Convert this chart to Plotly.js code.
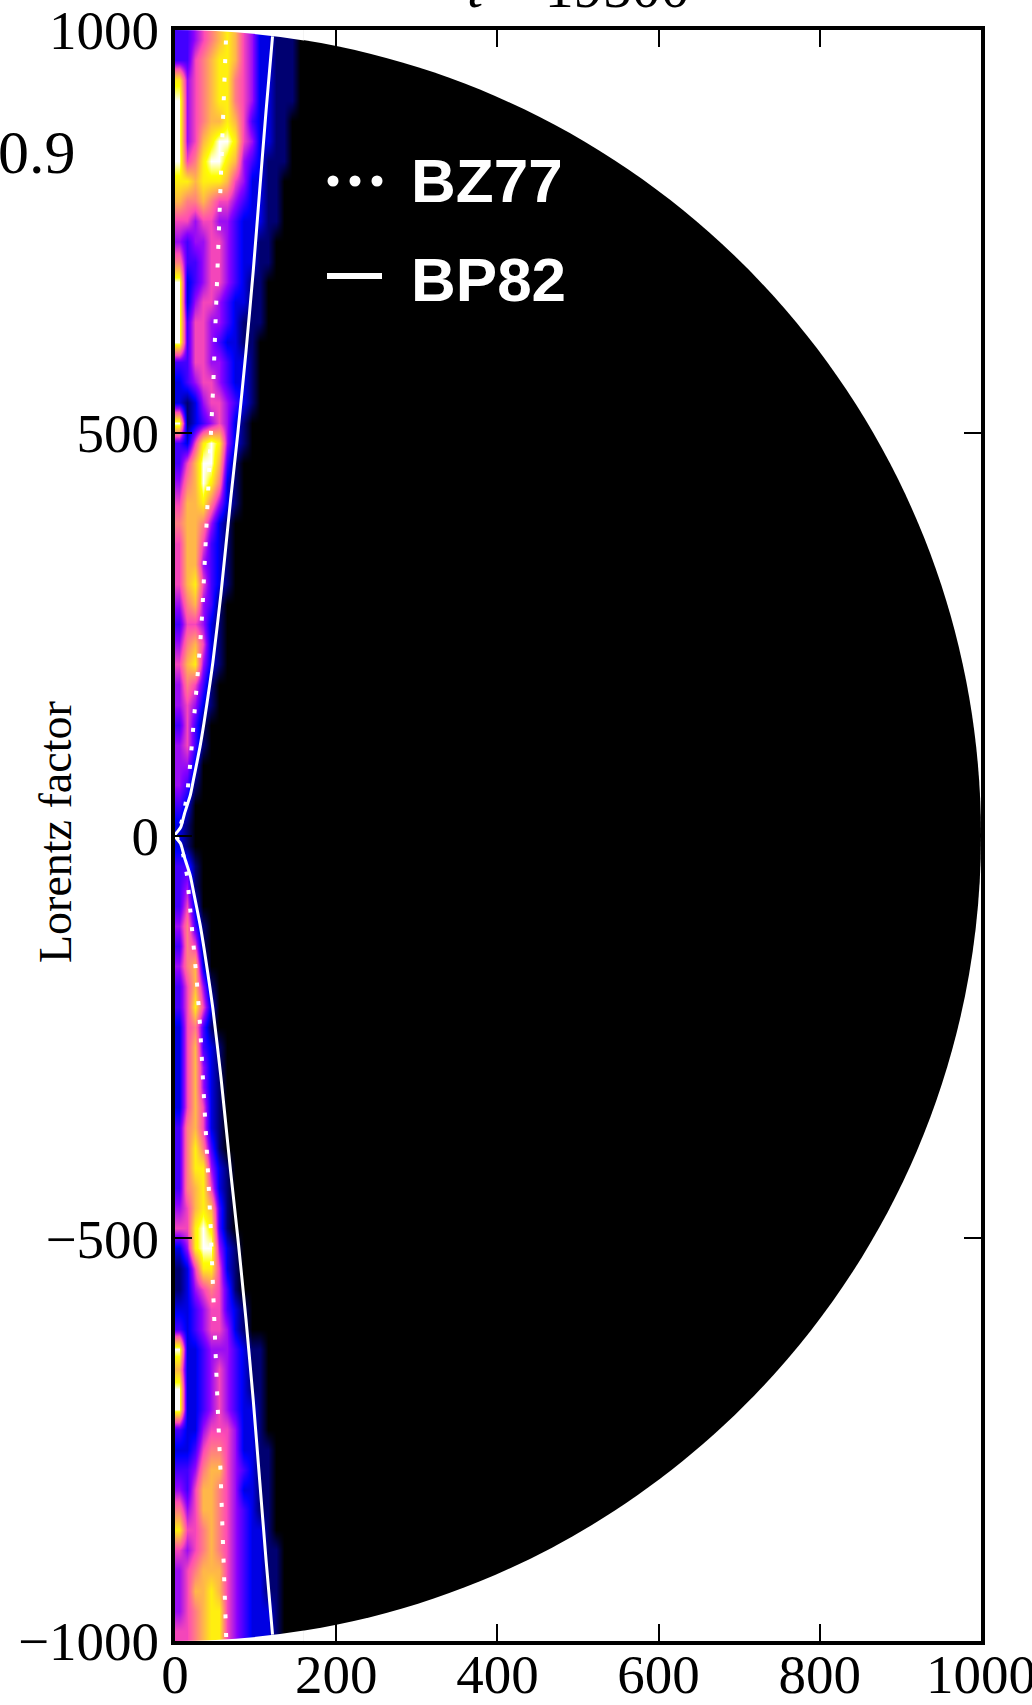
<!DOCTYPE html>
<html>
<head>
<meta charset="utf-8">
<script src="https://cdn.plot.ly/plotly-3.0.1.min.js"></script>
<style>
  html, body { margin: 0; padding: 0; background: #ffffff; }
  #chart { width: 1032px; height: 1705px; }
</style>
</head>
<body>
<div id="chart"></div>
<script>
// Lorentz factor in the jet, as colour levels 0 (Γ ≈ 1, black) … 9 (white).
// One string per 25-unit row, from z = +1000 (top) down to z = −1000;
// one character per 10-unit column in x, starting at the axis.
const gammaRows = [
  "3345678754221110",
  "3356788754221110",
  "8456788654221110",
  "9456788654221110",
  "9456778753221100",
  "9457899854221100",
  "9568998743211100",
  "8878887542211000",
  "7667655432211000",
  "5545544322211000",
  "4344554322110000",
  "6334554322110000",
  "9234554321100000",
  "9245543221100000",
  "9355443211100000",
  "9355432211000000",
  "3355443221000000",
  "2345543221000000",
  "2124554321000000",
  "9123454210000000",
  "3258984210000000",
  "3579973100000000",
  "4679862100000000",
  "5778642100000000",
  "6776421000000000",
  "5775321000000000",
  "5774321000000000",
  "5785321000000000",
  "4674310000000000",
  "3554210000000000",
  "4675210000000000",
  "5784210000000000",
  "4653100000000000",
  "4542100000000000",
  "3531000000000000",
  "4531000000000000",
  "4420000000000000",
  "4310000000000000",
  "3200000000000000",
  "2100000000000000",
  "2100000000000000",
  "3310000000000000",
  "3410000000000000",
  "3520000000000000",
  "4631000000000000",
  "3651000000000000",
  "4672000000000000",
  "3574100000000000",
  "3585200000000000",
  "2563100000000000",
  "2573210000000000",
  "2574210000000000",
  "2574210000000000",
  "2575210000000000",
  "3675210000000000",
  "3686310000000000",
  "3688421000000000",
  "3678521000000000",
  "4578731000000000",
  "5589831000000000",
  "2489942100000000",
  "1258852100000000",
  "1245653100000000",
  "2234553210000000",
  "3234554210000000",
  "9223444321100000",
  "7223454321100000",
  "9223454321100000",
  "9223454322100000",
  "3224555422100000",
  "2235665422110000",
  "3346775432110000",
  "4357765422110000",
  "6457765432110000",
  "8556765432210000",
  "5456765432211000",
  "4567775432211000",
  "4577875432211000",
  "4567885432221000",
  "5567885432221000"
];

// BP82 field line: cylindrical radius R against height |z|
const bp82R = [0, 7, 12, 19, 23, 31, 36, 43.5, 47, 57, 69, 78, 88, 97, 105, 113, 121];
const bp82Z = [0, 10, 28, 50, 70, 110, 140, 190, 215, 300, 417, 500, 600, 700, 800, 900, 992];

// BZ77 field line
const bz77R = [0, 5, 10, 15, 19, 23, 27, 31, 34, 37, 40.5, 44, 47.5, 50, 53, 56.5, 59, 61.5, 63.5];
const bz77Z = [0, 6, 23, 50, 90, 135, 180, 235, 280, 340, 410, 480, 560, 630, 710, 790, 860, 930, 995];

// axis ticks
const xTickVals = [0, 200, 400, 600, 800, 1000];
const xTickText = ["0", "200", "400", "600", "800", "1000"];
const yTickVals = [-1000, -500, 0, 500, 1000];
const yTickText = ["\u22121000", "\u2212500", "0", "500", "1000"];

const domainRadius = 1000;
const cellWidth = 10;
const rowHeight = 25;

const nCols = gammaRows[0].length;
const nRows = gammaRows.length;

// heatmap grid: ascending edges, bottom row first
const xEdges = [];
for (let c = 0; c <= nCols; c++) xEdges.push(c * cellWidth);
const yEdges = [];
for (let r = 0; r <= nRows; r++) yEdges.push(-domainRadius + r * rowHeight);
const zGrid = [];
for (let r = nRows - 1; r >= 0; r--) {
  zGrid.push(Array.from(gammaRows[r], ch => Number(ch)));
}

// matplotlib "gnuplot2" colour map
const gnuplot2 = [
  [0.00, "rgb(0,0,0)"],
  [0.25, "rgb(0,0,255)"],
  [0.42, "rgb(135,0,255)"],
  [0.57, "rgb(255,77,179)"],
  [0.92, "rgb(255,255,0)"],
  [1.00, "rgb(255,255,255)"]
];

// both hemispheres of a field line: z < 0 branch then z > 0 branch
function mirrored(R, Z) {
  const xs = [], ys = [];
  for (let i = R.length - 1; i > 0; i--) { xs.push(R[i]); ys.push(-Z[i]); }
  for (let i = 0; i < R.length; i++) { xs.push(R[i]); ys.push(Z[i]); }
  return { x: xs, y: ys };
}
const bz = mirrored(bz77R, bz77Z);
const bp = mirrored(bp82R, bp82Z);

const traces = [
  {
    type: "heatmap",
    x: xEdges, y: yEdges, z: zGrid,
    zmin: 0, zmax: 9,
    colorscale: gnuplot2,
    showscale: false,
    zsmooth: "best",
    hoverinfo: "skip"
  },
  {
    type: "scatter",
    mode: "lines",
    name: "BZ77",
    x: bz.x,
    y: bz.y,
    line: { color: "#ffffff", width: 4, dash: "4px,14.6px" },
    showlegend: false,
    hoverinfo: "skip"
  },
  {
    type: "scatter",
    mode: "lines",
    name: "BP82",
    x: bp.x,
    y: bp.y,
    line: { color: "#ffffff", width: 3, shape: "spline", smoothing: 0.6 },
    showlegend: false,
    hoverinfo: "skip"
  }
];

// plot-area geometry in pixels, used to place text and legend keys
const M = { l: 175, r: 51, t: 30, b: 64 };
const W = 1032, H = 1705;
const PW = W - M.l - M.r, PH = H - M.t - M.b;
const px = v => (v - M.l) / PW;
const py = v => 1 - (v - M.t) / PH;

const serif = "Liberation Serif, Times New Roman, serif";
const sans = "Liberation Sans, Arial, Helvetica, sans-serif";

// outline of the half-disc and the corners of the heatmap lying outside it
const R0 = domainRadius;
const kArc = 0.5523 * R0;
const xCut = nCols * cellWidth;
const yCut = Math.sqrt(R0 * R0 - xCut * xCut);
const qCut = xCut - (R0 - yCut) * yCut / xCut;

const axisCommon = {
  ticks: "inside",
  ticklen: 17,
  tickwidth: 2,
  tickcolor: "#000000",
  showline: true,
  linewidth: 4,
  linecolor: "#000000",
  mirror: "ticks",
  showgrid: false,
  zeroline: false,
  fixedrange: true,
  ticklabeloverflow: "allow",
  tickfont: { family: serif, size: 55, color: "#000000" }
};

const layout = {
  width: W,
  height: H,
  margin: M,
  paper_bgcolor: "#ffffff",
  plot_bgcolor: "#ffffff",
  showlegend: false,
  xaxis: Object.assign({}, axisCommon, {
    range: [0, 1000],
    tickmode: "array",
    tickvals: xTickVals,
    ticktext: xTickText,
    ticklabelstandoff: -18
  }),
  yaxis: Object.assign({}, axisCommon, {
    range: [-1000, 1000],
    tickmode: "array",
    tickvals: yTickVals,
    ticktext: yTickText,
    ticklabelstandoff: 1
  }),
  shapes: [
    // the half-disc of the computational domain
    {
      type: "path",
      xref: "x", yref: "y",
      layer: "below",
      path: `M 0,${-R0} C ${kArc},${-R0} ${R0},${-kArc} ${R0},0 ` +
            `C ${R0},${kArc} ${kArc},${R0} 0,${R0} Z`,
      fillcolor: "#000000",
      line: { width: 0 }
    },
    // white outside the disc where the heatmap's corners reach
    {
      type: "path", xref: "x", yref: "y", layer: "above",
      path: `M 0,${R0} L ${xCut},${R0} L ${xCut},${yCut} Q ${qCut},${R0} 0,${R0} Z`,
      fillcolor: "#ffffff", line: { width: 0 }
    },
    {
      type: "path", xref: "x", yref: "y", layer: "above",
      path: `M 0,${-R0} L ${xCut},${-R0} L ${xCut},${-yCut} Q ${qCut},${-R0} 0,${-R0} Z`,
      fillcolor: "#ffffff", line: { width: 0 }
    },
    // legend keys
    { type: "circle", xref: "paper", yref: "paper", x0: px(327.5), x1: px(338.5), y0: py(186.5), y1: py(175.5), fillcolor: "#ffffff", line: { width: 0 } },
    { type: "circle", xref: "paper", yref: "paper", x0: px(349.5), x1: px(360.5), y0: py(186.5), y1: py(175.5), fillcolor: "#ffffff", line: { width: 0 } },
    { type: "circle", xref: "paper", yref: "paper", x0: px(371.5), x1: px(382.5), y0: py(186.5), y1: py(175.5), fillcolor: "#ffffff", line: { width: 0 } },
    { type: "line", xref: "paper", yref: "paper", x0: px(327), x1: px(382), y0: py(276), y1: py(276), line: { color: "#ffffff", width: 6 } }
  ],
  annotations: [
    {
      text: "<i>t</i> = 19500",
      xref: "paper", yref: "paper", x: 0.5, y: 1,
      xanchor: "center", yanchor: "bottom", yshift: 8,
      showarrow: false,
      font: { family: serif, size: 58, color: "#000000" }
    },
    {
      text: "0.9",
      xref: "paper", yref: "paper", x: px(78), y: py(152),
      xanchor: "right", yanchor: "middle",
      showarrow: false,
      font: { family: serif, size: 62, color: "#000000" }
    },
    {
      text: "Lorentz factor",
      xref: "paper", yref: "paper", x: px(55), y: py(832),
      xanchor: "center", yanchor: "middle", textangle: -90,
      showarrow: false,
      font: { family: serif, size: 46, color: "#000000" }
    },
    {
      text: "BZ77",
      xref: "paper", yref: "paper", x: px(409), y: py(180.5),
      xanchor: "left", yanchor: "middle",
      showarrow: false,
      font: { family: sans, size: 62, color: "#ffffff", weight: "bold" }
    },
    {
      text: "BP82",
      xref: "paper", yref: "paper", x: px(409), y: py(279.5),
      xanchor: "left", yanchor: "middle",
      showarrow: false,
      font: { family: sans, size: 62, color: "#ffffff", weight: "bold" }
    }
  ]
};

Plotly.newPlot("chart", traces, layout, { staticPlot: true, displayModeBar: false });
</script>
</body>
</html>
